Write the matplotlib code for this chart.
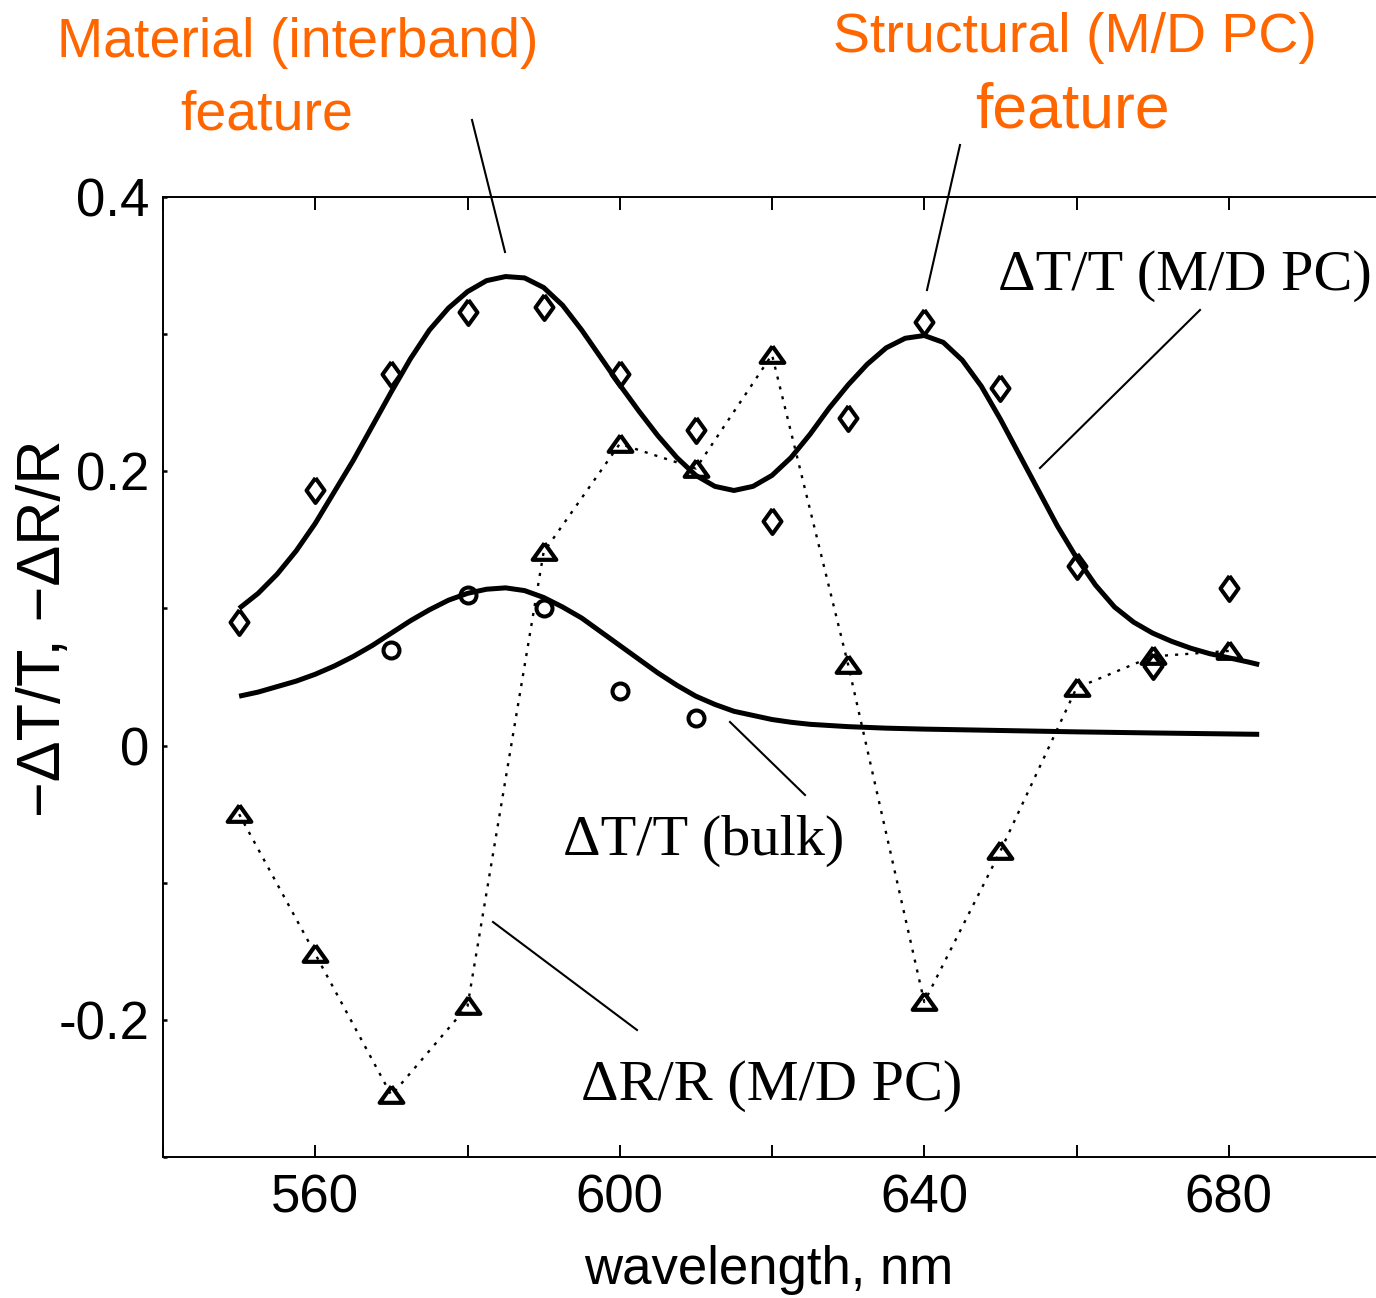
import matplotlib
matplotlib.use("Agg")
import matplotlib.pyplot as plt
from matplotlib.lines import Line2D
from matplotlib.ticker import MultipleLocator, FixedLocator, FixedFormatter

# ---------------- data ----------------
wl_pts = [550, 560, 570, 580, 590, 600, 610, 620, 630, 640, 650, 660, 670, 680]
dtt_mdpc = [0.090, 0.186, 0.271, 0.316, 0.320, 0.271, 0.230, 0.164, 0.239, 0.309,
            0.261, 0.131, 0.058, 0.115]
drr_mdpc = [-0.050, -0.152, -0.255, -0.190, 0.141, 0.220, 0.202, 0.285, 0.059,
            -0.187, -0.077, 0.042, 0.065, 0.069]

wl_bulk = [570, 580, 590, 600, 610]
dtt_bulk = [0.070, 0.110, 0.100, 0.040, 0.020]

# fitted curves
fit_mdpc_wl = [550, 552.5, 555, 557.5, 560, 562.5, 565, 567.5, 570, 572.5, 575, 577.5,
               580, 582.5, 585, 587.5, 590, 592.5, 595, 597.5, 600, 602.5, 605, 607.5,
               610, 612.5, 615, 617.5, 620, 622.5, 625, 627.5, 630, 632.5, 635, 637.5,
               640, 642.5, 645, 647.5, 650, 652.5, 655, 657.5, 660, 662.5, 665, 667.5,
               670, 672.5, 675, 677.5, 680, 682.5, 684]
fit_mdpc_val = [0.100, 0.111, 0.125, 0.142, 0.162, 0.185, 0.208, 0.233, 0.258, 0.282,
                0.303, 0.319, 0.331, 0.339, 0.342, 0.341, 0.334, 0.321, 0.303, 0.283,
                0.263, 0.244, 0.226, 0.210, 0.197, 0.189, 0.186, 0.189, 0.197, 0.210,
                0.227, 0.246, 0.263, 0.278, 0.290, 0.297, 0.299, 0.294, 0.281, 0.262,
                0.238, 0.212, 0.186, 0.160, 0.137, 0.117, 0.101, 0.090, 0.082, 0.076,
                0.071, 0.067, 0.064, 0.061, 0.059]

fit_bulk_wl = [550, 552.5, 555, 557.5, 560, 562.5, 565, 567.5, 570, 572.5, 575, 577.5,
               580, 582.5, 585, 587.5, 590, 592.5, 595, 597.5, 600, 602.5, 605, 607.5,
               610, 612.5, 615, 617.5, 620, 622.5, 625, 630, 635, 640, 650, 660, 670, 684]
fit_bulk_val = [0.036, 0.039, 0.043, 0.047, 0.052, 0.058, 0.065, 0.073, 0.082, 0.091,
                0.099, 0.106, 0.111, 0.114, 0.115, 0.113, 0.108, 0.101, 0.093, 0.083,
                0.073, 0.063, 0.053, 0.044, 0.036, 0.030, 0.025, 0.022, 0.019, 0.017,
                0.0155, 0.0138, 0.0127, 0.0120, 0.0110, 0.0100, 0.0092, 0.0082]

x_major = [560, 600, 640, 680]
x_labels = ["560", "600", "640", "680"]
y_major = [-0.2, 0.0, 0.2, 0.4]
y_labels = ["-0.2", "0", "0.2", "0.4"]

# ---------------- figure ----------------
W, H = 1376, 1298
DPI = 100
plt.rcParams['font.family'] = ['Liberation Sans', 'DejaVu Sans']
fig = plt.figure(figsize=(W / DPI, H / DPI), dpi=DPI)

def fx(px):
    return px / W

def fy(py):
    return 1 - py / H

ax = fig.add_axes([fx(163), fy(1157), (1381 - 163) / W, (1157 - 197) / H])
ax.set_xlim(540, 700)
ax.set_ylim(-0.3, 0.4)

# fits
ax.plot(fit_mdpc_wl, fit_mdpc_val, color='black', lw=3.6, solid_capstyle='butt',
        solid_joinstyle='round', zorder=3)
ax.plot(fit_bulk_wl, fit_bulk_val, color='black', lw=3.6, solid_capstyle='butt',
        solid_joinstyle='round', zorder=3)

# dotted reflection line with triangles
ax.plot(wl_pts, drr_mdpc, color='black', lw=1.7, linestyle=(0, (1.3, 3.0)), zorder=2)
tri = [(0, 0.78), (1, -0.62), (-1, -0.62), (0, 0.78)]
ax.plot(wl_pts, drr_mdpc, linestyle='none', marker=tri, markersize=17,
        markerfacecolor='none', markeredgecolor='black', markeredgewidth=3.0, zorder=4)

dia = [(0, 1), (0.72, 0), (0, -1), (-0.72, 0), (0, 1)]
ax.plot(wl_pts, dtt_mdpc, linestyle='none', marker=dia, markersize=18,
        markerfacecolor='none', markeredgecolor='black', markeredgewidth=2.9, zorder=4)

ax.plot(wl_bulk, dtt_bulk, linestyle='none', marker='o', markersize=11.5,
        markerfacecolor='none', markeredgecolor='black', markeredgewidth=2.9, zorder=4)

# axes styling
for s in ax.spines.values():
    s.set_linewidth(1.4)
ax.xaxis.set_major_locator(FixedLocator(x_major))
ax.xaxis.set_major_formatter(FixedFormatter(x_labels))
ax.xaxis.set_minor_locator(MultipleLocator(20))
ax.yaxis.set_major_locator(FixedLocator(y_major))
ax.yaxis.set_major_formatter(FixedFormatter(y_labels))
ax.yaxis.set_minor_locator(MultipleLocator(0.1))
ax.tick_params(axis='x', which='both', direction='in', top=True, bottom=True,
               length=9, width=1.4, labelsize=38, pad=12)
ax.tick_params(axis='y', which='both', direction='in', left=True, right=True,
               length=3, width=1.8, labelsize=38, pad=10)

fig.text(fx(769), fy(1270), "wavelength, nm", fontsize=38, ha='center', va='center')
fig.text(fx(45), fy(628), "\u2212\u0394T/T, \u2212\u0394R/R", fontsize=44,
         ha='center', va='center', rotation=90)

# orange annotations
orange = '#FF6600'
fig.text(fx(57), fy(57), "Material (interband)", color=orange, fontsize=40,
         ha='left', va='baseline')
fig.text(fx(180), fy(130), "feature", color=orange, fontsize=40, ha='left', va='baseline')
fig.text(fx(833), fy(52), "Structural (M/D PC)", color=orange, fontsize=40,
         ha='left', va='baseline')
fig.text(fx(975), fy(127), "feature", color=orange, fontsize=45, ha='left', va='baseline')

# serif series labels
serif = ['Liberation Serif', 'DejaVu Serif']
fig.text(fx(998), fy(290), "\u0394T/T (M/D PC)", fontsize=42, family=serif,
         ha='left', va='baseline')
fig.text(fx(563), fy(855), "\u0394T/T (bulk)", fontsize=42, family=serif,
         ha='left', va='baseline')
fig.text(fx(581), fy(1100), "\u0394R/R (M/D PC)", fontsize=42, family=serif,
         ha='left', va='baseline')

# pointer lines
pointers = [((472, 120), (505, 252)),
            ((960, 145), (927, 290)),
            ((1200, 310), (1040, 468)),
            ((730, 722), (805, 795)),
            ((493, 922), (637, 1030))]
for (x0, y0), (x1, y1) in pointers:
    fig.add_artist(Line2D([fx(x0), fx(x1)], [fy(y0), fy(y1)], color='black', lw=1.5,
                          transform=fig.transFigure))

fig.savefig("out.png", dpi=DPI)
